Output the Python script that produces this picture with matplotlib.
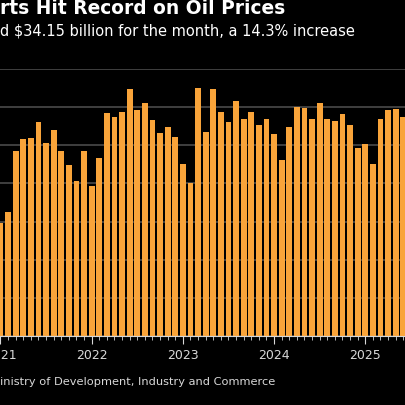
import matplotlib
matplotlib.use("Agg")
import matplotlib.pyplot as plt
import numpy as np

months = [f"{y}-{m:02d}" for y in range(2021, 2026) for m in range(1, 13)][:54]
values = [14.8, 16.2, 24.2, 25.8, 26.0, 28.0, 25.3, 27.0, 24.2, 22.4, 20.3, 24.2,
          19.6, 23.3, 29.2, 28.7, 29.4, 32.4, 29.6, 30.5, 28.3, 26.6, 27.4, 26.1,
          22.6, 20.0, 32.5, 26.8, 32.4, 29.4, 28.1, 30.8, 28.5, 29.4, 27.7, 28.5,
          26.5, 23.1, 27.4, 30.0, 29.9, 28.4, 30.6, 28.4, 28.2, 29.1, 27.6, 24.7,
          25.2, 22.6, 28.4, 29.6, 29.7, 28.7]
year_labels = ["2021", "2022", "2023", "2024", "2025"]
yticks = [0, 5, 10, 15, 20, 25, 30, 35]

fig = plt.figure(figsize=(4.06, 4.06), dpi=100, facecolor="black")
ax = fig.add_axes([0, 69/406, 1, (337-70)/406], facecolor="black")
x = np.arange(len(values))
ax.bar(x, values, width=0.78, color="#f9a43a", zorder=2)
ax.set_yticks(yticks)
ax.yaxis.grid(True, color="#4a4a4a", lw=1.2, zorder=0)
ax.tick_params(axis="y", length=0, labelleft=False)
for s in ["top", "right", "left"]:
    ax.spines[s].set_visible(False)
ax.spines["bottom"].set_color("#d8d8d8")
ax.spines["bottom"].set_zorder(3)
ax.set_xticks([0, 12, 24, 36, 48])
ax.set_xticklabels(year_labels, color="#d8d8d8", fontsize=9)
ax.set_xticks(np.arange(0, 60), minor=True)
ax.tick_params(axis="x", which="major", length=6, color="#d8d8d8", pad=3)
ax.tick_params(axis="x", which="minor", length=3, color="#d8d8d8")
a = 0.5/7.6
ax.set_xlim(-a, -a + 406/7.6)
ax.set_ylim(0, 35)

fig.text(0.0, 1 - 9/406, "rts Hit Record on Oil Prices", color="white",
         fontsize=13.4, fontweight="bold", va="center", ha="left")
fig.text(0.0, 1 - 31/406, "d $34.15 billion for the month, a 14.3% increase", color="white",
         fontsize=10.5, va="center", ha="left")
fig.text(0.0, 1 - 382/406, "inistry of Development, Industry and Commerce", color="#d8d8d8",
         fontsize=8.2, va="center", ha="left")
fig.savefig("out.png", dpi=100, facecolor="black")
